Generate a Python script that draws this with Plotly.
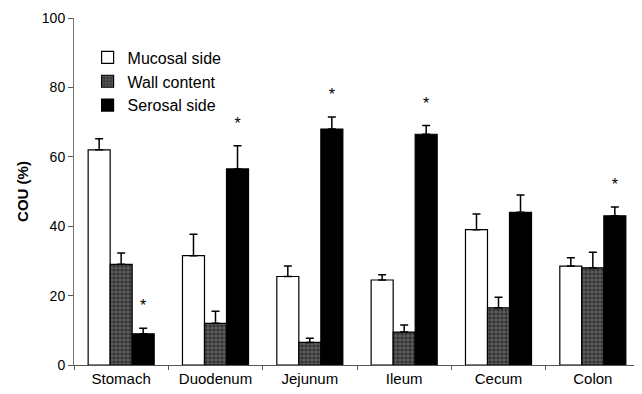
import plotly.graph_objects as go

categories = ["Stomach", "Duodenum", "Jejunum", "Ileum", "Cecum", "Colon"]
series_names = ["Mucosal side", "Wall content", "Serosal side"]
mucosal = [62.0, 31.5, 25.5, 24.5, 39.0, 28.5]
mucosal_err = [3.2, 6.2, 3.0, 1.5, 4.5, 2.4]
wall = [29.0, 12.0, 6.5, 9.5, 16.5, 28.0]
wall_err = [3.3, 3.5, 1.2, 2.0, 3.0, 4.5]
serosal = [9.0, 56.5, 68.0, 66.5, 44.0, 43.0]
serosal_err = [1.6, 6.7, 3.5, 2.5, 5.0, 2.5]
significant = [True, True, True, True, False, True]

x = list(range(len(categories)))
group_width = 0.7
bw = group_width / 3

fig = go.Figure()
styles = [
    dict(color="white"),
    dict(color="#333333", pattern=dict(shape="+", fgcolor="#c0c0c0", bgcolor="#333333", size=4, solidity=0.3, fillmode="overlay")),
    dict(color="black"),
]
for name, vals, errs, st in zip(series_names, [mucosal, wall, serosal],
                                [mucosal_err, wall_err, serosal_err], styles):
    fig.add_trace(go.Bar(
        x=x, y=vals, name=name,
        marker=dict(line=dict(color="black", width=1.2), **st),
        error_y=dict(type="data", symmetric=False, array=errs,
                     arrayminus=[0] * len(errs), color="black",
                     thickness=1.5, width=4),
    ))

sx = [i + bw for i, s in enumerate(significant) if s]
sy = [serosal[i] + serosal_err[i] + 6.0 for i, s in enumerate(significant) if s]
fig.add_trace(go.Scatter(x=sx, y=sy, mode="text", text=["*"] * len(sx),
                         textfont=dict(size=16, color="black", family="Liberation Sans"),
                         showlegend=False, hoverinfo="skip"))

fig.update_layout(
    width=634, height=386,
    margin=dict(l=66, r=2, t=10, b=29),
    paper_bgcolor="white", plot_bgcolor="white",
    barmode="group", bargap=1 - group_width, bargroupgap=0,
    font=dict(family="Liberation Sans, Arial, sans-serif", size=14, color="black"),
    legend=dict(x=0.024, y=0.935, xanchor="left", yanchor="top",
                bgcolor="rgba(0,0,0,0)", font=dict(size=16),
                itemwidth=30, tracegroupgap=0),
    showlegend=True,
)
fig.update_xaxes(
    range=[-0.5, len(categories) - 0.5],
    tickvals=x, ticktext=categories, ticks="",
    showline=True, linecolor="#555", linewidth=1, showgrid=False, zeroline=False,
    minor=dict(tick0=0.5, dtick=1, ticks="outside", ticklen=4, tickcolor="#555", showgrid=False),
    tickfont=dict(size=15),
)
fig.update_yaxes(
    range=[0, 100], dtick=20, ticks="outside", ticklen=5, tickcolor="#555",
    showline=True, linecolor="#777", linewidth=1, showgrid=False, zeroline=False,
    title=dict(text="<b>COU (%)</b>", font=dict(size=15), standoff=9),
    tickfont=dict(size=14),
)

fig.write_html("out.html")
